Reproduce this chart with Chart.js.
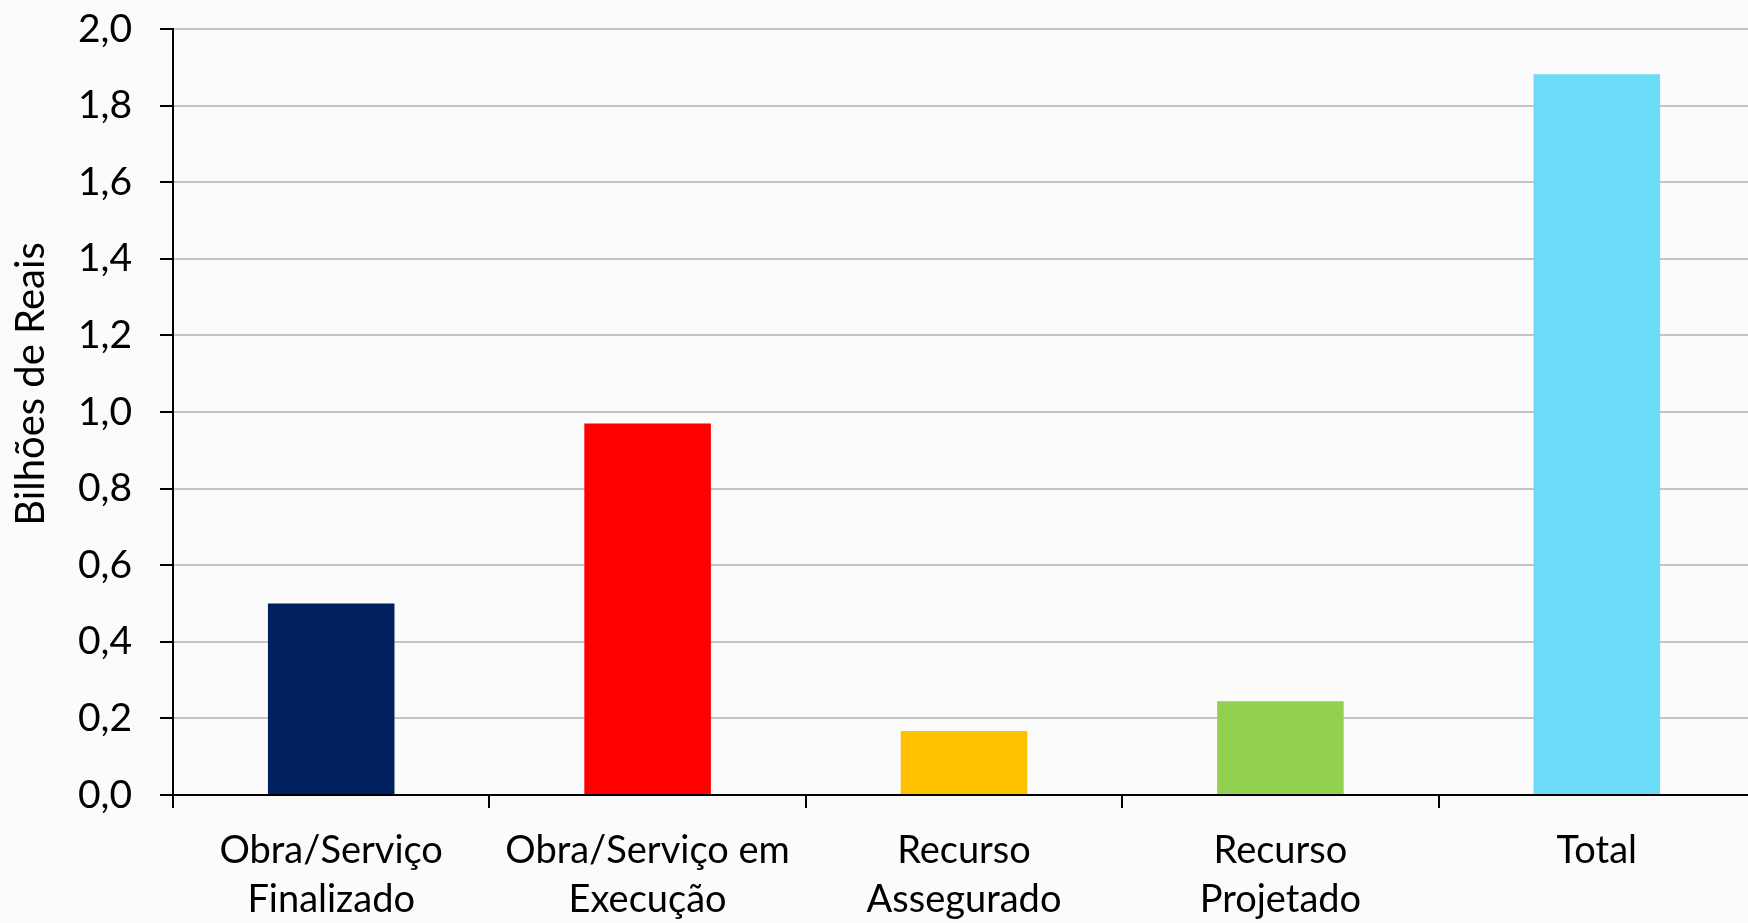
<!DOCTYPE html>
<html>
<head>
<meta charset="utf-8">
<title>Bilhões de Reais</title>
<script src="https://cdn.jsdelivr.net/npm/chart.js@4.4.1/dist/chart.umd.min.js"></script>
<style>
    html, body {
        margin: 0;
        padding: 0;
        width: 1748px;
        height: 923px;
        overflow: hidden;
        background: #fbfbfb;
    }
    #wrap {
        position: relative;
        width: 1760px;
        height: 923px;
    }
</style>
</head>
<body>
<div id="wrap"><canvas id="chart"></canvas></div>
<script>
const categories = [
    ["Obra/Serviço", "Finalizado"],
    ["Obra/Serviço em", "Execução"],
    ["Recurso", "Assegurado"],
    ["Recurso", "Projetado"],
    "Total"
];
const values = [0.50, 0.97, 0.167, 0.245, 1.882];
const barColors = ["#002060", "#FF0000", "#FFC000", "#92D050", "#6CDBF8"];
const yTitle = "Bilhões de Reais";

document.addEventListener("DOMContentLoaded", function () {
    const ctx = document.getElementById("chart").getContext("2d");
    Chart.defaults.font.family = "Lato, 'Open Sans', sans-serif";
    Chart.defaults.color = "#000";

    // y title sits a bit above the middle of the plot, so draw it by hand
    const yTitlePlugin = {
        id: "yTitle",
        afterDraw: function (chart) {
            const c = chart.ctx;
            const area = chart.chartArea;
            c.save();
            c.translate(31, (area.top + area.bottom) / 2 - 28);
            c.rotate(-Math.PI / 2);
            c.font = "40px Lato, 'Open Sans', sans-serif";
            c.fillStyle = "#000";
            c.textAlign = "center";
            c.textBaseline = "middle";
            c.fillText(yTitle, 0, 0);
            c.restore();
        }
    };

    new Chart(ctx, {
        type: "bar",
        data: {
            labels: categories,
            datasets: [{
                data: values,
                backgroundColor: barColors,
                barPercentage: 0.4,
                categoryPercentage: 1.0
            }]
        },
        plugins: [yTitlePlugin],
        options: {
            responsive: true,
            maintainAspectRatio: false,
            animation: false,
            layout: {
                padding: { top: 29, right: 5, left: 0, bottom: 0 }
            },
            plugins: {
                legend: { display: false },
                tooltip: { enabled: false }
            },
            scales: {
                x: {
                    grid: {
                        offset: true,
                        drawOnChartArea: false,
                        tickLength: 13,
                        tickColor: "#000",
                        lineWidth: 2
                    },
                    border: { color: "#000", width: 2 },
                    ticks: {
                        color: "#000",
                        font: { size: 38, lineHeight: 1.3 },
                        padding: 18,
                        maxRotation: 0,
                        autoSkip: false
                    },
                    afterFit: function (scale) {
                        scale.height = 128;
                    }
                },
                y: {
                    min: 0,
                    max: 2,
                    grid: {
                        color: function (c) {
                            return c.tick && c.tick.value === 0 ? "rgba(0,0,0,0)" : "#c4c4c4";
                        },
                        tickColor: "#000",
                        tickLength: 13,
                        lineWidth: 2
                    },
                    border: { color: "#000", width: 2 },
                    ticks: {
                        stepSize: 0.2,
                        color: "#000",
                        padding: 28,
                        font: { size: 39 },
                        callback: function (value) {
                            return value.toFixed(1).replace(".", ",");
                        }
                    },
                    afterFit: function (scale) {
                        scale.width = 173;
                        // labels may overhang the plot, so no extra padding above/below
                        scale.paddingTop = 0;
                        scale.paddingBottom = 0;
                    }
                }
            }
        }
    });
});
</script>
</body>
</html>
